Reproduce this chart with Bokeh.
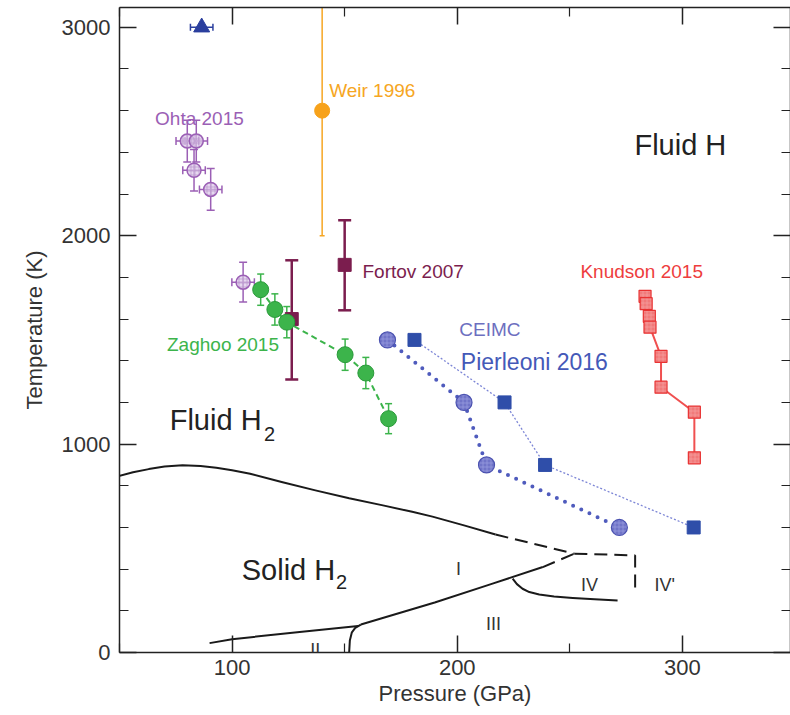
from bokeh.plotting import figure
from bokeh.models import Range1d, LinearAxis, Whisker, TeeHead, ColumnDataSource, Label, FixedTicker
from bokeh.embed import file_html
from bokeh.resources import INLINE

# ---------------- data ----------------
x_major = [100, 200, 300]
x_minor = [50, 150, 250, 350]
y_major = [0, 1000, 2000, 3000]
y_minor = [200, 400, 600, 800, 1200, 1400, 1600, 1800, 2200, 2400, 2600, 2800]

ohta_p = [80.1, 84.1, 83.1, 90.5, 104.9]
ohta_t = [2454, 2454, 2314, 2222, 1777]
ohta_perr = [5, 5, 5, 5, 5]
ohta_terr = [100, 100, 100, 100, 95]

tri_p = [86.5]
tri_t = [3000]
tri_perr = [5]

weir_p = [140]
weir_t = [2600]
weir_lo = [2000]
weir_hi = [3095]

fortov_p = [126.5, 150]
fortov_t = [1600, 1860]
fortov_lo = [1310, 1642]
fortov_hi = [1882, 2074]

zaghoo_p = [112.7, 119.0, 124.3, 150.2, 159.4, 169.5]
zaghoo_t = [1741, 1646, 1585, 1429, 1341, 1122]
zaghoo_terr = [75, 75, 75, 75, 75, 72]

ceimc_c_p = [169, 203, 213, 272]
ceimc_c_t = [1500, 1200, 900, 600]
ceimc_s_p = [181, 221, 239, 305]
ceimc_s_t = [1500, 1200, 900, 600]

knudson_p = [283.4, 283.9, 285.3, 285.6, 290.5, 290.5, 305.3, 305.3]
knudson_t = [1709, 1674, 1613, 1561, 1421, 1273, 1153, 934]

# phase boundaries
melt_p = [49, 56, 63, 70, 78, 86, 93, 100, 108, 122, 137, 152, 167, 180, 189, 203, 217]
melt_t = [845, 865, 880, 892, 898, 895, 887, 875, 858, 818, 778, 740, 706, 675, 652, 610, 566]
melt_dash_p = [217, 252]
melt_dash_t = [566, 474]
iv_top_p = [252, 279, 279]
iv_top_t = [474, 466, 298]
i_iv_dash_p = [238, 252]
i_iv_dash_t = [410, 474]
i_iii_p = [157.2, 190, 215, 238]
i_iii_t = [134, 240, 328, 410]
ii_i_p = [90, 100, 130, 156]
ii_i_t = [45, 64, 98, 127]
ii_iii_p = [152, 152.3, 153.2, 154.7, 157.2]
ii_iii_t = [0, 58, 97, 118, 134]
iii_iv_p = [224.6, 226.5, 229, 232, 236.4, 243, 251.3, 261, 271.2]
iii_iv_t = [354, 328, 306, 290, 278, 269, 262, 256, 250]

FONT = "Liberation Sans"

p = figure(width=790, height=715, x_range=Range1d(50, 348), y_range=Range1d(0, 3095),
           output_backend="svg", toolbar_location=None,
           min_border_left=119, min_border_right=0, min_border_top=7, min_border_bottom=63)
p.grid.visible = False
p.outline_line_color = None


def style_axis(ax, labels=True, ticks=None):
    ax.major_tick_in = 17
    ax.major_tick_out = 0
    ax.minor_tick_in = 9
    ax.minor_tick_out = 0
    ax.axis_line_color = "#222222"
    ax.axis_line_width = 1.5
    ax.major_tick_line_color = "#222222"
    ax.major_tick_line_width = 1.5
    ax.minor_tick_line_color = "#222222"
    ax.minor_tick_line_width = 1.2
    ax.major_label_text_font = FONT
    ax.axis_label_text_font = FONT
    ax.axis_label_text_font_style = "normal"
    ax.major_label_text_color = "#333333"
    ax.axis_label_text_color = "#333333"
    if labels:
        ax.major_label_text_font_size = "22px"
        ax.axis_label_text_font_size = "22px"
    else:
        ax.major_label_overrides = {t: "" for t in ticks}
        ax.major_label_text_font_size = "1px"
        ax.major_label_standoff = 0
        ax.axis_label = None


xt = FixedTicker(ticks=x_major, minor_ticks=x_minor)
yt = FixedTicker(ticks=y_major, minor_ticks=y_minor)

p.xaxis.ticker = xt
p.yaxis.ticker = yt
style_axis(p.xaxis[0])
style_axis(p.yaxis[0])
p.xaxis.axis_label = "Pressure (GPa)"
p.yaxis.axis_label = "Temperature (K)"
p.xaxis.major_label_standoff = 7
p.xaxis.axis_label_standoff = 3
p.yaxis.major_label_standoff = 9
p.yaxis.axis_label_standoff = 12

top = LinearAxis(ticker=xt)
style_axis(top, labels=False, ticks=x_major)
p.add_layout(top, "above")
right = LinearAxis(ticker=yt)
style_axis(right, labels=False, ticks=y_major)
p.add_layout(right, "right")

# ---------------- phase lines ----------------
K = "#1a1a1a"
p.line(melt_p, melt_t, line_color=K, line_width=2, line_join="round")
p.line(melt_dash_p, melt_dash_t, line_color=K, line_width=2, line_dash="13 7")
p.line(iv_top_p, iv_top_t, line_color=K, line_width=2, line_dash="13 7")
p.line(i_iv_dash_p, i_iv_dash_t, line_color=K, line_width=2, line_dash="13 7")
p.line(i_iii_p, i_iii_t, line_color=K, line_width=2, line_join="round")
p.line(ii_i_p, ii_i_t, line_color=K, line_width=2, line_join="round")
p.line(ii_iii_p, ii_iii_t, line_color=K, line_width=2, line_join="round")
p.line(iii_iv_p, iii_iv_t, line_color=K, line_width=2, line_join="round")


# ---------------- error bars ----------------
def whisker(base, lo, hi, color, dim="height", cap=9, width=1.5, lower_cap=True, upper_cap=True):
    src = ColumnDataSource(dict(base=base, lower=lo, upper=hi))
    w = Whisker(source=src, base="base", lower="lower", upper="upper", dimension=dim,
                line_color=color, line_width=width,
                upper_head=TeeHead(size=cap, line_color=color, line_width=width) if upper_cap else None,
                lower_head=TeeHead(size=cap, line_color=color, line_width=width) if lower_cap else None)
    p.add_layout(w)


OHTA = "#9b5fb5"
whisker(ohta_p, [t - e for t, e in zip(ohta_t, ohta_terr)], [t + e for t, e in zip(ohta_t, ohta_terr)], OHTA, cap=8)
whisker(ohta_t, [x - e for x, e in zip(ohta_p, ohta_perr)], [x + e for x, e in zip(ohta_p, ohta_perr)], OHTA, dim="width", cap=8)
TRI = "#2b3f9e"
whisker(tri_t, [x - e for x, e in zip(tri_p, tri_perr)], [x + e for x, e in zip(tri_p, tri_perr)], TRI, dim="width", cap=7)
WEIR = "#f6a623"
whisker(weir_p, weir_lo, weir_hi, WEIR, cap=5, upper_cap=False)
FORT = "#7b1d4e"
whisker(fortov_p, fortov_lo, fortov_hi, FORT, cap=13, width=2.5)
GREEN = "#3cb44b"
whisker(zaghoo_p, [t - e for t, e in zip(zaghoo_t, zaghoo_terr)], [t + e for t, e in zip(zaghoo_t, zaghoo_terr)], GREEN, cap=7)

# ---------------- series ----------------
p.scatter(fortov_p, fortov_t, marker="square", size=13, fill_color=FORT, line_color=FORT)

p.line(zaghoo_p, zaghoo_t, line_color=GREEN, line_width=2, line_dash="6 4")
p.scatter(zaghoo_p, zaghoo_t, marker="circle", size=16, fill_color=GREEN, line_color="#2a9a3a", line_width=1)

p.scatter(ohta_p, ohta_t, marker="circle", size=14, fill_color="#dcc8e8", fill_alpha=0.7,
          line_color=OHTA, line_width=1.5, hatch_pattern="cross", hatch_color="#b993cc",
          hatch_scale=4, hatch_weight=0.7)

p.scatter(tri_p, tri_t, marker="triangle", size=16, fill_color=TRI, line_color=TRI)
p.scatter(weir_p, weir_t, marker="circle", size=15, fill_color="#f7a21b", line_color="#f7a21b")

p.line(ceimc_s_p, ceimc_s_t, line_color="#7d86d6", line_width=1.3, line_dash="2 2")
p.line(ceimc_c_p, ceimc_c_t, line_color="#4f5bbd", line_width=4, line_dash="0 9", line_cap="round")
p.scatter(ceimc_c_p, ceimc_c_t, marker="circle", size=16, fill_color="#7074c8", line_color="#4b52b0",
          line_width=1.2, hatch_pattern="cross", hatch_color="#9a9de0", hatch_scale=4, hatch_weight=0.7)
p.scatter(ceimc_s_p, ceimc_s_t, marker="square", size=13, fill_color="#2f4ea9", line_color="#2f4ea9")

RED = "#e83333"
p.line(knudson_p, knudson_t, line_color="#f05050", line_width=2)
p.scatter(knudson_p, knudson_t, marker="square", size=12, fill_color="#f17a7a", line_color=RED,
          line_width=1.2, hatch_pattern="cross", hatch_color="#f5a0a0", hatch_scale=4, hatch_weight=0.7)


# ---------------- text ----------------
def lab(x, y, text, size, color, align="left"):
    p.add_layout(Label(x=x, y=y, text=text, text_font=FONT, text_font_size=size,
                       text_color=color, text_align=align, text_baseline="alphabetic"))


lab(65.8, 2562, "Ohta 2015", "19px", OHTA)
lab(143.1, 2698, "Weir 1996", "19px", WEIR)
lab(157.9, 1830, "Fortov 2007", "19px", FORT)
lab(71.1, 1477, "Zaghoo 2015", "19px", GREEN)
lab(254.7, 1830, "Knudson 2015", "19px", "#ee3d3d")
lab(200.9, 1549, "CEIMC", "19px", "#6d6fc0")
lab(201.6, 1393, "Pierleoni 2016", "23px", "#4459b8")

DARK = "#222222"
lab(278.7, 2434, "Fluid H", "29px", DARK)
lab(72.3, 1114, "Fluid H", "29px", DARK)
lab(114.2, 1050, "2", "20px", DARK)
lab(104.3, 394, "Solid H", "29px", DARK)
lab(146.1, 337, "2", "20px", DARK)

lab(199.4, 402, "I", "18px", "#333333")
lab(134.7, 10, "II", "18px", "#333333")
lab(212.8, 138, "III", "18px", "#333333")
lab(255.0, 322, "IV", "18px", "#333333")
lab(287.6, 322, "IV'", "18px", "#333333")

open("out.html", "w").write(file_html(p, INLINE))
